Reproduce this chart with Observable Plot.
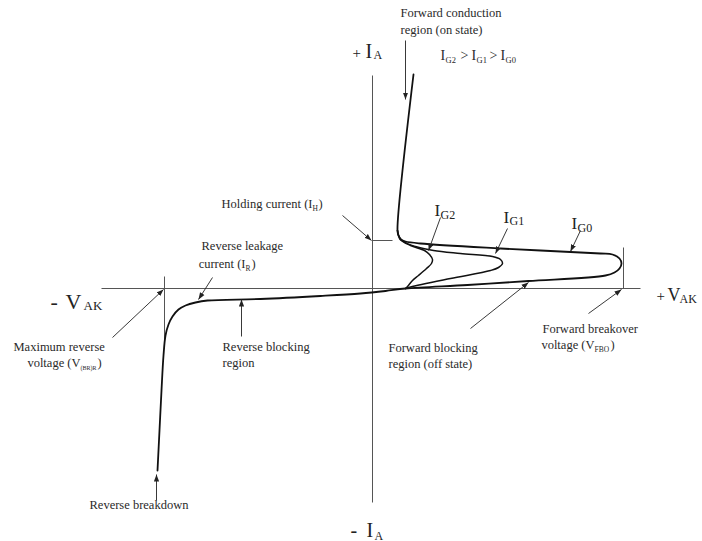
<!DOCTYPE html>
<html>
<head>
<meta charset="utf-8">
<script src="https://cdn.jsdelivr.net/npm/d3@7"></script>
<script src="https://cdn.jsdelivr.net/npm/@observablehq/plot@0.6"></script>
<style>
  html, body { margin: 0; padding: 0; background: #fff; }
</style>
</head>
<body>
<div id="chart"></div>
<script>
// Thyristor (SCR) static I–V characteristic.
// V = anode–cathode voltage, I = anode current, both in arbitrary units.

// Gate current IG0 (= 0): reverse breakdown, reverse blocking, forward
// blocking up to the breakover voltage, then back to the on-state branch.
const curveIG0 = [
  [-21.5, -18.2], [-21.3, -14.2], [-21.1, -10.2], [-20.9, -6.7], [-20.7, -4.7],
  [-20.4, -3.6], [-20.0, -2.8], [-19.4, -2.1], [-18.7, -1.7], [-17.7, -1.4],
  [-16.5, -1.2], [-11.2, -1.05], [-5.2, -0.75], [-1.2, -0.5], [1.3, -0.25],
  [3.3, 0.0], [9.5, 0.35], [15.6, 0.75], [23.3, 1.3], [24.2, 1.6], [24.7, 2.0],
  [24.9, 2.5], [24.7, 3.0], [24.0, 3.4], [22.8, 3.5], [12.8, 4.0], [4.8, 4.5],
  [3.3, 4.7], [2.8, 4.9], [2.6, 5.3], [2.5, 5.8], [4.1, 21.4]
];

// Gate current IG1 > IG0: breaks over at a lower voltage
const curveIG1 = [
  [3.3, 0.0], [3.8, 0.15], [7.8, 1.0], [11.8, 1.8], [12.6, 2.1], [13.0, 2.5],
  [12.8, 2.9], [12.0, 3.2], [8.8, 3.5], [6.1, 3.8], [4.3, 4.2], [3.1, 4.7],
  [2.6, 5.3], [2.5, 5.8]
];

// Gate current IG2 > IG1: breaks over almost immediately
const curveIG2 = [
  [3.3, 0.0], [3.5, 0.2], [4.0, 0.8], [4.6, 1.3], [5.4, 2.0], [5.9, 2.5],
  [6.0, 2.9], [5.7, 3.4], [5.2, 3.8], [3.8, 4.3], [2.8, 4.9], [2.5, 5.8]
];

// Coordinate axes
const axisV = [{x1: -27.1, y1: 0, x2: 26.8, y2: 0}];
const axisI = [{x1: 0, y1: 21.3, x2: 0, y2: -21.4}];

// Guide lines: holding current, reverse breakdown voltage, forward breakover voltage
const guides = [
  {x1: 0, y1: 4.8, x2: 2.0, y2: 4.8},
  {x1: -20.8, y1: 1.2, x2: -20.8, y2: -6.0},
  {x1: 25.1, y1: 4.1, x2: 25.1, y2: 0}
];

// Annotation pointers (tail → head)
const pointers = [
  {x1: 3.3, y1: 24.8, x2: 3.3, y2: 18.9},     // forward conduction
  {x1: -3.0, y1: 7.3, x2: -0.1, y2: 4.8},     // holding current
  {x1: -16.0, y1: 1.1, x2: -17.4, y2: -1.1},  // reverse leakage
  {x1: -26.0, y1: -4.9, x2: -20.9, y2: -0.1}, // maximum reverse voltage
  {x1: -13.1, y1: -4.8, x2: -13.1, y2: -1.1}, // reverse blocking
  {x1: 9.8, y1: -4.0, x2: 15.6, y2: 0.6},     // forward blocking
  {x1: 21.6, y1: -2.5, x2: 24.9, y2: -0.1},   // forward breakover
  {x1: -21.6, y1: -21.2, x2: -21.6, y2: -18.6}, // reverse breakdown
  {x1: 6.8, y1: 7.1, x2: 5.6, y2: 3.8},       // IG2
  {x1: 13.5, y1: 6.0, x2: 12.3, y2: 3.5},     // IG1
  {x1: 20.8, y1: 5.8, x2: 19.8, y2: 3.7}      // IG0
];

// Region notes
const notes = [
  {text: "Forward conduction", x: 2.8, y: 27.2},
  {text: "region (on state)", x: 2.8, y: 25.5},
  {text: "Reverse leakage", x: -17.1, y: 3.9},
  {text: "Maximum reverse", x: -35.9, y: -6.2},
  {text: "Reverse blocking", x: -15.0, y: -6.2},
  {text: "region", x: -15.0, y: -7.8},
  {text: "Forward blocking", x: 1.6, y: -6.3},
  {text: "region (off state)", x: 1.6, y: -7.9},
  {text: "Forward breakover", x: 17.0, y: -4.4},
  {text: "Reverse breakdown", x: -28.3, y: -22.0},
  {text: ")", x: -5.4, y: 8.1},
  {text: ")", x: -12.1, y: 2.1},
  {text: ")", x: -27.5, y: -7.8},
  {text: ")", x: 23.8, y: -6.0}
];
// Note text that runs up to a subscript
const notesBeforeSub = [
  {text: "Holding current (I", x: -6.0, y: 8.1},
  {text: "current (I", x: -12.7, y: 2.1},
  {text: "voltage (V", x: -29.2, y: -7.8},
  {text: "voltage (V", x: 22.2, y: -6.0}
];
const noteSubs = [
  {text: "H", x: -6.0, y: 7.8},
  {text: "R", x: -12.7, y: 1.8},
  {text: "FBO", x: 22.2, y: -6.3}
];
const noteSubsSmall = [
  {text: "(BR)R", x: -29.2, y: -8.1}
];

// Axis symbols
const axisSymbolsLeft = [
  {text: "-", x: -32.2, y: -2.0},
  {text: "V", x: -30.7, y: -2.0}
];
const axisSymbolsLeftSub = [{text: "AK", x: -28.9, y: -2.1}];
const plusSigns = [
  {text: "+", x: 28.4, y: -1.2},
  {text: "+", x: -2.0, y: 23.1}
];
const axisSymbolsRight = [{text: "V", x: 29.5, y: -1.2}];
const axisSymbolsRightSub = [{text: "AK", x: 30.7, y: -1.4}];
const axisSymbolsI = [
  {text: "I", x: -0.7, y: 23.1},
  {text: "-", x: -2.2, y: -24.8},
  {text: "I", x: -0.6, y: -24.8}
];
const axisSymbolsISub = [
  {text: "A", x: 0.1, y: 23.0},
  {text: "A", x: 0.2, y: -25.1}
];

// Gate current curve labels
const gateLabels = [
  {text: "I", x: 6.2, y: 7.3},
  {text: "I", x: 13.1, y: 6.6},
  {text: "I", x: 19.9, y: 6.0}
];
const gateLabelSubs = [
  {text: "G2", x: 6.8, y: 7.0},
  {text: "G1", x: 13.7, y: 6.4},
  {text: "G0", x: 20.5, y: 5.7}
];

// Ordering of the gate currents: IG2 > IG1 > IG0
const orderText = [
  {text: "I", x: 6.8, y: 22.9},
  {text: ">", x: 8.8, y: 22.9},
  {text: "I", x: 9.9, y: 22.9},
  {text: ">", x: 11.7, y: 22.9},
  {text: "I", x: 12.8, y: 22.9}
];
const orderSubs = [
  {text: "G2", x: 7.3, y: 22.6},
  {text: "G1", x: 10.4, y: 22.6},
  {text: "G0", x: 13.3, y: 22.6}
];

// Solid triangular arrowhead
function solidHead(color) {
  const m = d3.create("svg:marker")
    .attr("viewBox", "-7 -3 8 6")
    .attr("markerWidth", 8)
    .attr("markerHeight", 6)
    .attr("markerUnits", "userSpaceOnUse")
    .attr("orient", "auto")
    .attr("refX", 0)
    .attr("refY", 0)
    .attr("fill", color)
    .attr("stroke", "none");
  m.append("path").attr("d", "M-7,-2.6L0,0L-7,2.6Z");
  return m.node();
}

const serif = "Liberation Serif, Times New Roman, serif";
const ink = "#111";
const textInk = "#2a2a2a";
const txt = (data, size, anchor, fill = textInk) =>
  Plot.text(data, {
    x: "x", y: "y", text: "text",
    textAnchor: anchor, lineAnchor: "bottom",
    fontFamily: serif, fontSize: size, fill
  });
const pt = (d) => d[0];
const it = (d) => d[1];

const chart = Plot.plot({
  width: 702,
  height: 541,
  margin: 0,
  x: {domain: [-37.2, 33.0], axis: null},
  y: {domain: [-25.3, 28.8], axis: null},
  style: {background: "#fff"},
  marks: [
    Plot.link(axisV, {x1: "x1", y1: "y1", x2: "x2", y2: "y2", stroke: "#555", strokeWidth: 1}),
    Plot.link(axisI, {x1: "x1", y1: "y1", x2: "x2", y2: "y2", stroke: "#555", strokeWidth: 1}),
    Plot.link(guides, {x1: "x1", y1: "y1", x2: "x2", y2: "y2", stroke: "#555", strokeWidth: 1}),
    Plot.line(curveIG2, {x: pt, y: it, curve: "catmull-rom", stroke: ink, strokeWidth: 1.5}),
    Plot.line(curveIG1, {x: pt, y: it, curve: "catmull-rom", stroke: ink, strokeWidth: 1.5}),
    Plot.line(curveIG0, {x: pt, y: it, curve: "catmull-rom", stroke: ink, strokeWidth: 1.8}),
    Plot.link(pointers, {
      x1: "x1", y1: "y1", x2: "x2", y2: "y2",
      stroke: "#222", strokeWidth: 0.9, markerEnd: solidHead
    }),
    txt(notes, 12.5, "start"),
    txt(notesBeforeSub, 12.5, "end"),
    txt(noteSubs, 7.5, "start"),
    txt(noteSubsSmall, 6, "start"),
    txt(axisSymbolsLeft, 22, "start", "#222"),
    txt(axisSymbolsLeftSub, 13, "start", "#222"),
    txt(plusSigns, 15, "start", "#222"),
    txt(axisSymbolsRight, 18, "start", "#222"),
    txt(axisSymbolsRightSub, 12, "start", "#222"),
    txt(axisSymbolsI, 20, "start", "#222"),
    txt(axisSymbolsISub, 12, "start", "#222"),
    txt(gateLabels, 17, "start", "#222"),
    txt(gateLabelSubs, 12, "start", "#222"),
    txt(orderText, 14, "start"),
    txt(orderSubs, 8.5, "start")
  ]
});

document.getElementById("chart").appendChild(chart);
</script>
</body>
</html>
